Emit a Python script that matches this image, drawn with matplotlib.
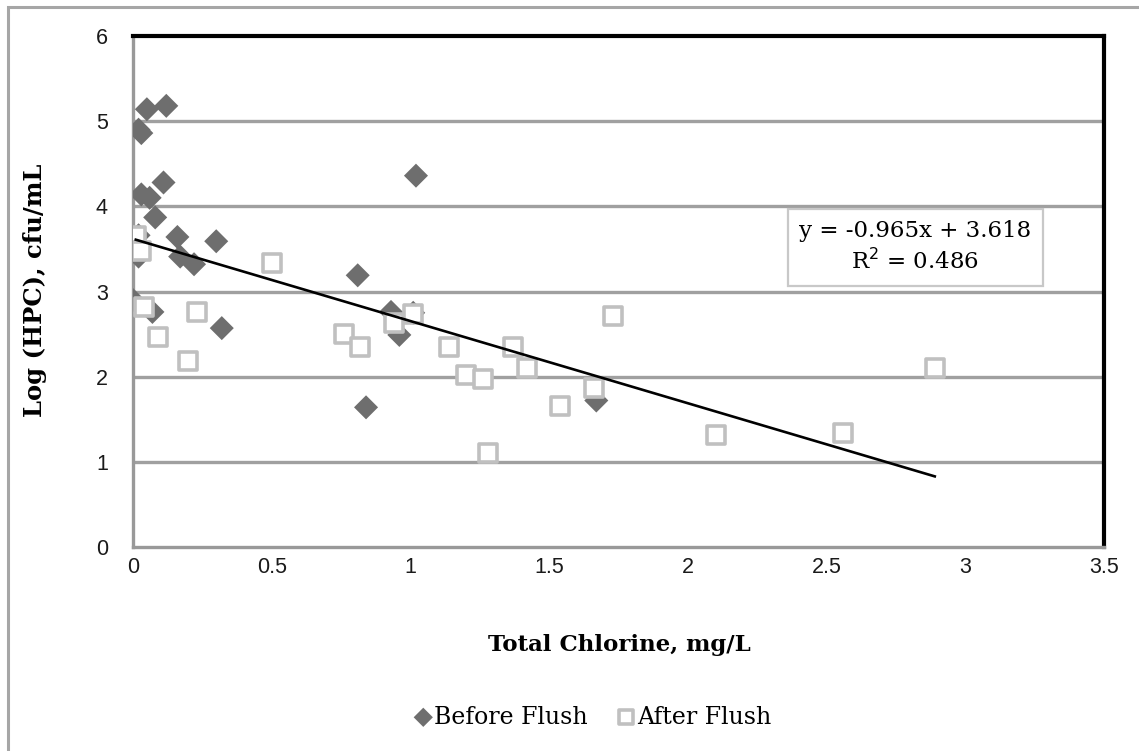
import numpy as np
import matplotlib
matplotlib.use("Agg")
import matplotlib.pyplot as plt
from matplotlib.patches import Rectangle

# before-flush samples (total chlorine mg/L, log HPC)
before_x = [0.02, 0.03, 0.05, 0.12, 0.03, 0.06, 0.11, 0.08, 0.16, 0.30, 0.17, 0.22,
            0.02, 0.02, 0.00, 0.07, 0.32, 1.02, 0.81, 0.93, 0.96, 1.01, 0.84, 1.67]
before_y = [4.90, 4.86, 5.14, 5.18, 4.14, 4.10, 4.28, 3.87, 3.64, 3.59, 3.41, 3.32,
            3.41, 3.66, 2.90, 2.76, 2.57, 4.36, 3.19, 2.76, 2.49, 2.75, 1.64, 1.72]

# after-flush samples
after_x = [0.01, 0.03, 0.04, 0.09, 0.20, 0.23, 0.50, 0.76, 0.82, 0.94, 1.01, 1.14,
           1.20, 1.26, 1.28, 1.37, 1.42, 1.54, 1.66, 1.73, 2.10, 2.56, 2.89]
after_y = [3.65, 3.48, 2.82, 2.47, 2.18, 2.76, 3.33, 2.50, 2.35, 2.63, 2.73, 2.35,
           2.02, 1.97, 1.10, 2.35, 2.10, 1.65, 1.87, 2.71, 1.31, 1.34, 2.10]

# linear trendline shown in the chart
slope, intercept, r2 = -0.965, 3.618, 0.486

x_ticks = [0, 0.5, 1, 1.5, 2, 2.5, 3, 3.5]
x_tick_labels = ['0', '0.5', '1', '1.5', '2', '2.5', '3', '3.5']
y_ticks = [0, 1, 2, 3, 4, 5, 6]

SERIF = 'DejaVu Serif'
SANS = 'Liberation Sans'

fig = plt.figure(figsize=(11.39, 7.51), dpi=100)
fig.patches.append(Rectangle((8/1139, -0.2), 1.2, 1.2 - 7/751, transform=fig.transFigure,
                             fill=False, edgecolor='#a6a6a6', lw=2.2, zorder=0))

ax = fig.add_axes([133/1139, 1 - 547/751, (1104 - 133)/1139, (547 - 36)/751])
ax.set_xlim(0, 3.5)
ax.set_ylim(0, 6)

for v in y_ticks[1:-1]:
    ax.axhline(v, color='#a0a0a0', lw=2.4, zorder=1)

ax.spines['top'].set_color('black'); ax.spines['top'].set_linewidth(3)
ax.spines['right'].set_color('black'); ax.spines['right'].set_linewidth(3)
ax.spines['left'].set_color('#999999'); ax.spines['left'].set_linewidth(2.4)
ax.spines['bottom'].set_color('#999999'); ax.spines['bottom'].set_linewidth(2.4)

ax.set_xticks(x_ticks)
ax.set_xticklabels(x_tick_labels)
ax.set_yticks(y_ticks)
ax.tick_params(length=0, labelsize=15.5, labelcolor='#1a1a1a')
ax.tick_params(axis='y', pad=18)
ax.tick_params(axis='x', pad=7)
for lab in ax.get_xticklabels() + ax.get_yticklabels():
    lab.set_family(SANS)

ax.scatter(before_x, before_y, marker='D', s=150, color='#6e6e6e', edgecolors='none',
           zorder=3, label='Before Flush')
ax.scatter(after_x, after_y, marker='s', s=170, facecolors='white', edgecolors='#c0c0c0',
           linewidths=2.6, zorder=4, label='After Flush')

all_x = np.array(before_x + after_x)
xs = np.array([all_x.min() + 0.01, all_x.max()])
ax.plot(xs, slope * xs + intercept, color='black', lw=1.9, zorder=5)

ax.text(2.82, 3.52, 'y = -0.965x + 3.618\nR$^2$ = 0.486', ha='center', va='center',
        fontsize=16.5, family=SERIF, linespacing=1.35, zorder=6,
        bbox=dict(boxstyle='square,pad=0.5', facecolor='white', edgecolor='#c8c8c8', lw=1.6))

ax.set_xlabel('Total Chlorine, mg/L', fontsize=16.5, fontweight='bold', family=SERIF, va='center')
ax.set_ylabel('Log (HPC), cfu/mL', fontsize=17.5, fontweight='bold', family=SERIF, va='center')
ax.xaxis.set_label_coords((619 - 133)/971, (547 - 645)/511)
ax.yaxis.set_label_coords((35 - 133)/971, (547 - 290)/511)

leg = fig.legend(loc='center', bbox_to_anchor=(592/1139, 1 - 717/751), ncol=2, frameon=False,
                 prop={'family': SERIF, 'size': 17}, handletextpad=0.0, columnspacing=1.2,
                 handlelength=0.9, markerscale=0.8)

fig.savefig('out.png', dpi=100)
